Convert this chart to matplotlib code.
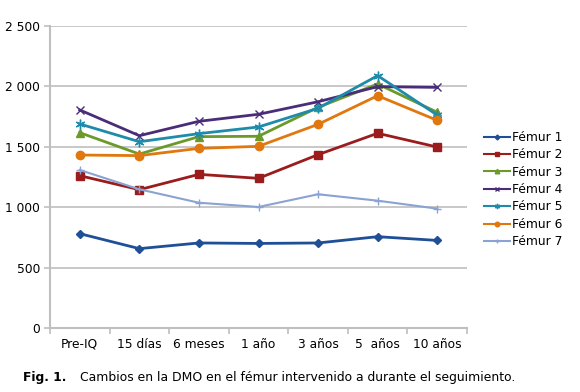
import matplotlib.pyplot as plt
from matplotlib.ticker import FuncFormatter

plt.rcParams['font.family'] = ['DejaVu Sans']

# datos
categorias = ['Pre-IQ', '15 días', '6 meses', '1 año', '3 años', '5  años', '10 años']
femur1 = [781, 657, 704, 700, 704, 756, 725]
femur2 = [1261, 1145, 1272, 1239, 1435, 1612, 1498]
femur3 = [1617, 1440, 1584, 1587, 1827, 2020, 1786]
femur4 = [1805, 1592, 1711, 1769, 1873, 1998, 1992]
femur5 = [1689, 1542, 1609, 1664, 1819, 2089, 1763]
femur6 = [1432, 1427, 1487, 1504, 1686, 1923, 1719]
femur7 = [1308, 1148, 1037, 1002, 1107, 1054, 988]

series = [
    ('Fémur 1', femur1, '#1F4F96', 'D', 4.5, 2.0),
    ('Fémur 2', femur2, '#9A1C1C', 's', 6, 2.0),
    ('Fémur 3', femur3, '#6B9A2B', '^', 6, 2.0),
    ('Fémur 4', femur4, '#4A2D78', 'x', 6, 2.0),
    ('Fémur 5', femur5, '#1E8BAA', (6, 2, 0), 7, 2.0),
    ('Fémur 6', femur6, '#E0780F', 'o', 6, 2.0),
    ('Fémur 7', femur7, '#8AA3D2', '+', 6, 1.5),
]

fig = plt.figure(figsize=(5.8, 3.92), dpi=100)
ax = fig.add_axes([50 / 580, 1 - 328 / 392, 417 / 580, 302 / 392])

x = list(range(len(categorias)))
handles = []
for nombre, vals, color, mk, ms, lw in series:
    h, = ax.plot(x, vals, color=color, marker=mk, markersize=ms, linewidth=lw,
                 markeredgecolor=color, markerfacecolor=color, label=nombre)
    handles.append(h)

ax.set_xlim(-0.5, len(categorias) - 0.5)
ax.set_ylim(0, 2500)
ax.set_yticks([0, 500, 1000, 1500, 2000, 2500])
ax.yaxis.set_major_formatter(FuncFormatter(lambda v, p: f"{int(v):,}".replace(',', ' ')))
ax.grid(axis='y', color='#BFBFBF', linewidth=1.2)
ax.set_axisbelow(True)

ax.set_xticks(x)
ax.set_xticklabels(categorias)
ax.set_xticks([i - 0.5 for i in range(len(categorias) + 1)], minor=True)
ax.tick_params(axis='x', which='major', length=0, pad=7, labelsize=8.8)
ax.tick_params(axis='x', which='minor', length=4, color='#BFBFBF', width=1.2)
ax.tick_params(axis='y', length=4, color='#BFBFBF', width=1.2, labelsize=8.8, pad=3)

for s in ['top', 'right']:
    ax.spines[s].set_visible(False)
for s in ['left', 'bottom']:
    ax.spines[s].set_color('#BFBFBF')
    ax.spines[s].set_linewidth(1.5)

# leyenda fuera del gráfico
leg = fig.legend(handles=handles, loc='upper left', bbox_to_anchor=(479 / 580, 1 - 126 / 392),
                 frameon=False, fontsize=8.8, handlelength=2.1, handletextpad=0.2,
                 labelspacing=0.36, markerscale=0.55, borderaxespad=0)
for h in leg.legend_handles:
    h.set_linewidth(1.5)

fig.text(23 / 580, 1 - 378 / 392, 'Fig. 1.', fontsize=8.9, fontweight='bold', va='center')
fig.text(80 / 580, 1 - 378 / 392, 'Cambios en la DMO en el fémur intervenido a durante el seguimiento.',
         fontsize=8.9, va='center')

fig.savefig('out.png', dpi=100)
